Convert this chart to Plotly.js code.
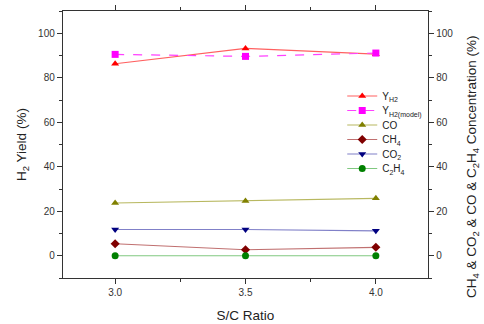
<!DOCTYPE html>
<html><head><meta charset="utf-8">
<script src="https://cdn.plot.ly/plotly-3.0.1.min.js"></script>
<style>html,body{margin:0;padding:0;background:#fff}#c{width:484px;height:324px}</style>
</head><body><div id="c"></div>
<script>
const sc = [3.0, 3.5, 4.0];
const yH2 = [86.3, 93.2, 90.6];
const yH2model = [90.5, 89.6, 91.1];
const co = [23.7, 24.6, 25.8];
const ch4 = [5.4, 2.7, 3.8];
const co2 = [11.8, 11.8, 11.2];
const c2h4 = [0, 0, 0];
const names = ['Y<sub>H2</sub>', 'Y<sub>H2(model)</sub>', 'CO', 'CH<sub>4</sub>', 'CO<sub>2</sub>', 'C<sub>2</sub>H<sub>4</sub>'];
const rightTitle = 'CH<sub>4</sub> & CO<sub>2</sub> & CO & C<sub>2</sub>H<sub>4</sub> Concentration (%)';
const legendIds = ['legend', 'legend2', 'legend3', 'legend4', 'legend5', 'legend6'];

function tr(i, y, lc, mc, sym, dash, axis) {
  return {x: sc, y: y, name: names[i], type: 'scatter', mode: 'lines+markers', yaxis: axis, legend: legendIds[i],
    line: {color: lc, width: 1.2, dash: dash}, marker: {color: mc, symbol: sym, size: 7}};
}
const data = [
  tr(0, yH2, '#ff6060', '#ff0000', 'triangle-up', 'solid', 'y'),
  tr(1, yH2model, '#ff40ff', '#ff00ff', 'square', 'dash', 'y'),
  tr(2, co, '#b8b860', '#808000', 'triangle-up', 'solid', 'y2'),
  tr(3, ch4, '#c07070', '#800000', 'diamond', 'solid', 'y2'),
  tr(4, co2, '#8080c8', '#000080', 'triangle-down', 'solid', 'y2'),
  tr(5, c2h4, '#80c880', '#008000', 'circle', 'solid', 'y2')
];
const ff = 'Liberation Sans, Arial, sans-serif';
const tf = {family: ff, size: 10, color: '#333'};
const titleFont = {family: ff, size: 13.5, color: '#222'};
const layout = {
  width: 484, height: 324,
  margin: {l: 63, r: 56, t: 11, b: 46},
  paper_bgcolor: '#fff', plot_bgcolor: '#fff',
  showlegend: true,
  xaxis: {range: [2.8, 4.2], tickvals: [3.0, 3.5, 4.0], ticktext: ['3.0', '3.5', '4.0'],
    ticks: 'outside', ticklen: 5, tickwidth: 1, tickcolor: '#333', showline: true, linecolor: '#333', linewidth: 1.2,
    mirror: 'ticks', showgrid: false, zeroline: false, tickfont: tf,
    minor: {tickvals: [3.25, 3.75], ticks: 'outside', ticklen: 3, tickcolor: '#333'},
    title: {text: 'S/C Ratio', font: titleFont, standoff: 13}},
  yaxis: {range: [-10, 110], tickvals: [0, 20, 40, 60, 80, 100],
    ticks: 'outside', ticklen: 5, tickwidth: 1, tickcolor: '#333', showline: true, linecolor: '#333', linewidth: 1.2,
    showgrid: false, zeroline: false, tickfont: tf,
    minor: {dtick: 10, tick0: 0, ticks: 'outside', ticklen: 3, tickcolor: '#333'},
    title: {text: 'H<sub>2</sub> Yield (%)', font: titleFont, standoff: 8}},
  yaxis2: {range: [-10, 110], tickvals: [0, 20, 40, 60, 80, 100], overlaying: 'y', side: 'right',
    ticks: 'outside', ticklen: 5, tickwidth: 1, tickcolor: '#333', showline: true, linecolor: '#333', linewidth: 1.2,
    showgrid: false, zeroline: false, tickfont: tf,
    minor: {dtick: 10, tick0: 0, ticks: 'outside', ticklen: 3, tickcolor: '#333'}},
  annotations: [{text: rightTitle, xref: 'paper', yref: 'paper', x: (472 - 63) / 365, y: (278 - 167) / 267,
    xanchor: 'center', yanchor: 'middle', textangle: -90, showarrow: false, font: titleFont}]
};
legendIds.forEach(function (id, i) {
  const ypx = 96 + 14.5 * i;
  layout[id] = {x: 0.765, y: (278 - ypx) / 267, xanchor: 'left', yanchor: 'middle', bgcolor: 'rgba(0,0,0,0)',
    font: {family: ff, size: 10, color: '#222'}, itemwidth: 30};
});
Plotly.newPlot('c', data, layout, {displayModeBar: false, staticPlot: true});
</script></body></html>
